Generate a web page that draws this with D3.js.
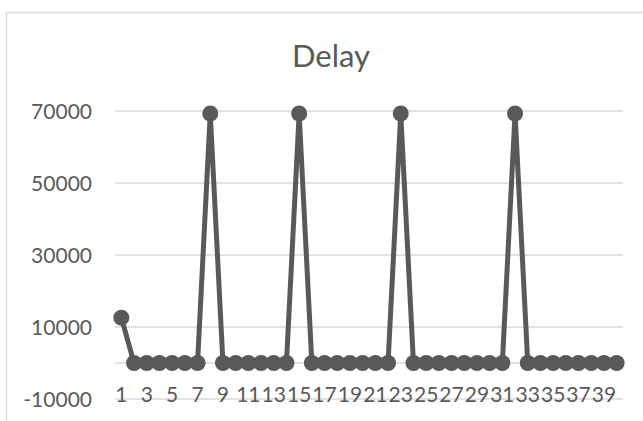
<!DOCTYPE html>
<html>
<head>
<meta charset="utf-8">
<script src="https://cdn.jsdelivr.net/npm/d3@7"></script>
<style>
  html, body { margin: 0; padding: 0; background: #fff; }
  svg { display: block; }
  text { font-family: Lato, "Open Sans", sans-serif; fill: #595959; }
</style>
</head>
<body>
<script>
const title = "Delay";
const categories = d3.range(1, 41);
const delayValues = [
  12600, 0, 0, 0, 0, 0, 0, 69300, 0, 0,
  0, 0, 0, 0, 69300, 0, 0, 0, 0, 0,
  0, 0, 69300, 0, 0, 0, 0, 0, 0, 0,
  0, 69300, 0, 0, 0, 0, 0, 0, 0, 0
];
const yTicks = [-10000, 10000, 30000, 50000, 70000];
const xTickLabels = categories.filter(c => c % 2 === 1);

const W = 643, H = 421;
const svg = d3.select("body").append("svg").attr("width", W).attr("height", H);

// chart border
svg.append("rect").attr("x", 6.5).attr("y", 12.5).attr("width", 660).attr("height", 440)
  .attr("fill", "none").attr("stroke", "#d9d9d9").attr("stroke-width", 1.3);

const x = d3.scaleBand().domain(categories).range([115, 623]).padding(0);
const y = d3.scaleLinear().domain([-10000, 70000]).range([399, 111]);
const cx = d => x(d) + x.bandwidth() / 2;

// gridlines
svg.append("g").selectAll("line").data(yTicks).join("line")
  .attr("x1", 115).attr("x2", 623)
  .attr("y1", d => y(d)).attr("y2", d => y(d))
  .attr("stroke", "#d9d9d9").attr("stroke-width", 1.3);

// zero axis line
svg.append("line").attr("x1", 115).attr("x2", 623)
  .attr("y1", y(0)).attr("y2", y(0))
  .attr("stroke", "#d9d9d9").attr("stroke-width", 1.3);

// y labels
svg.append("g").selectAll("text").data(yTicks).join("text")
  .attr("x", 92).attr("y", d => y(d) + 7.5)
  .attr("text-anchor", "end").attr("font-size", 21)
  .text(d => d);

// x labels
svg.append("g").selectAll("text").data(xTickLabels).join("text")
  .attr("x", d => cx(d)).attr("y", 402)
  .attr("text-anchor", "middle").attr("font-size", 21)
  .text(d => d);

// title
svg.append("text").attr("x", 331).attr("y", 67)
  .attr("text-anchor", "middle").attr("font-size", 31).text(title);

const data = categories.map((c, i) => ({ c, v: delayValues[i] }));
const line = d3.line().x(d => cx(d.c)).y(d => y(d.v));
svg.append("path").datum(data).attr("d", line)
  .attr("fill", "none").attr("stroke", "#595959").attr("stroke-width", 5)
  .attr("stroke-linejoin", "round");

svg.append("g").selectAll("circle").data(data).join("circle")
  .attr("cx", d => cx(d.c)).attr("cy", d => y(d.v)).attr("r", 8)
  .attr("fill", "#595959");
</script>
</body>
</html>
